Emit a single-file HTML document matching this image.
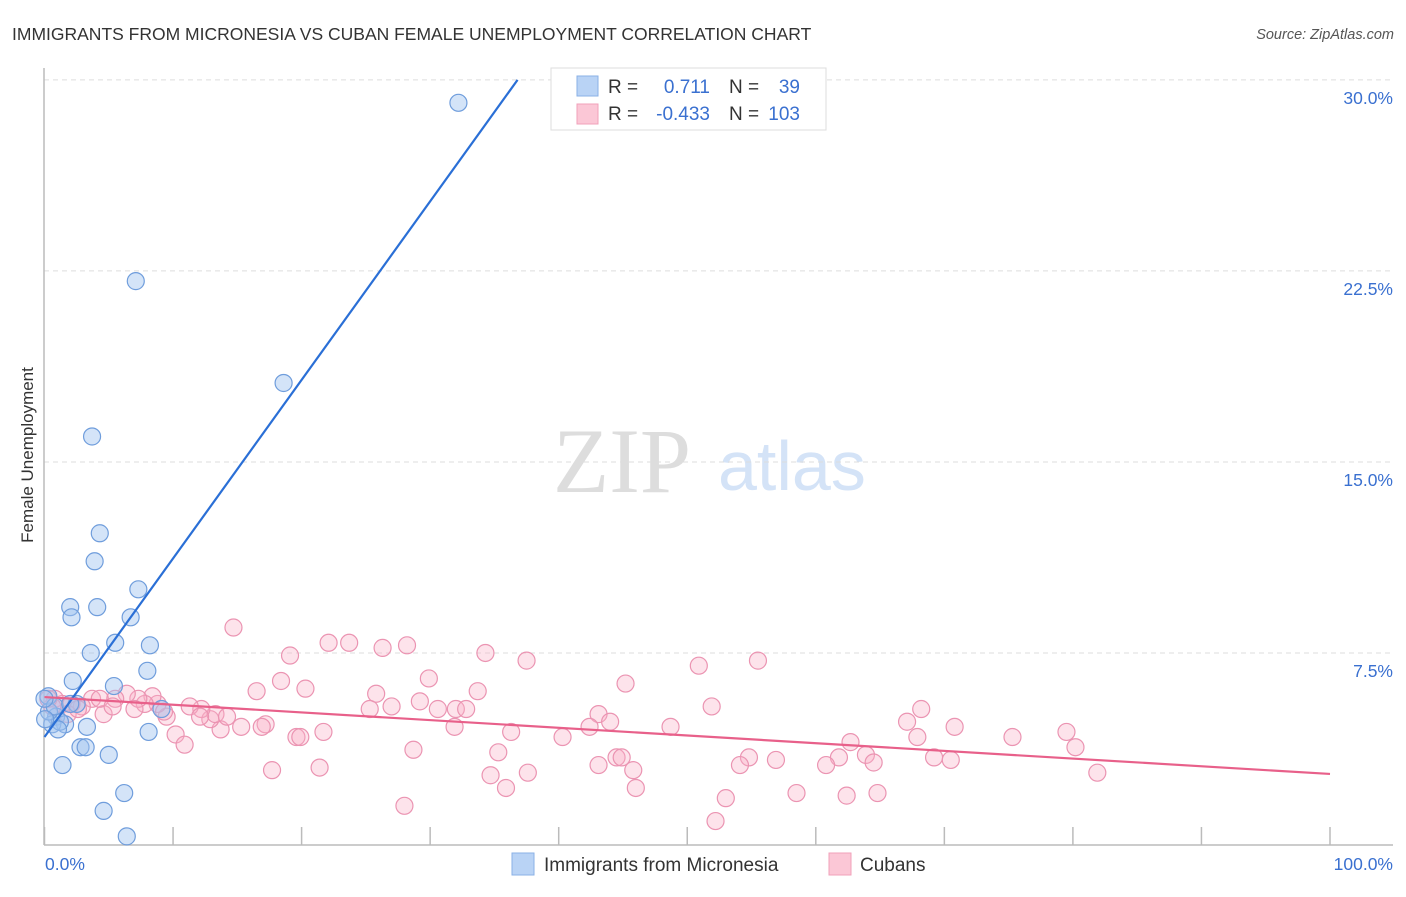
<!DOCTYPE html>
<html><head><meta charset="utf-8"><style>
body{margin:0;background:#fff;font-family:"Liberation Sans",sans-serif;}
svg text{font-family:"Liberation Sans",sans-serif;}
</style></head><body>
<svg id="c" width="1406" height="892" xmlns="http://www.w3.org/2000/svg">
<text x="12" y="40" font-size="17.5" fill="#333">IMMIGRANTS FROM MICRONESIA VS CUBAN FEMALE UNEMPLOYMENT CORRELATION CHART</text>
<text x="1394" y="39" font-size="14.5" fill="#555" font-style="italic" text-anchor="end">Source: ZipAtlas.com</text>
<text transform="translate(33,455) rotate(-90)" font-size="17" fill="#333" text-anchor="middle">Female Unemployment</text>
<g>
<text x="553" y="492" font-size="92" fill="#ddd" font-family="Liberation Serif" style="font-family:'Liberation Serif',serif">ZIP</text>
<text x="718" y="490" font-size="70" fill="#d4e3f7">atlas</text>
</g>
<g id="grid"></g><g id="axes"></g><g id="pts"></g><g id="lines"></g>
<g>
<rect x="551" y="68" width="275" height="62" fill="#fff" stroke="#ddd"/>
<rect x="577" y="76" width="21" height="20" fill="#b9d3f5" stroke="#8ab0e6"/>
<rect x="577" y="104" width="21" height="20" fill="#fbc7d6" stroke="#f0a0ba"/>
<text x="608" y="93" font-size="19" fill="#333">R =</text>
<text x="710" y="93" font-size="19" fill="#3a70d0" text-anchor="end">0.711</text>
<text x="729" y="93" font-size="19" fill="#333">N =</text>
<text x="800" y="93" font-size="19" fill="#3a70d0" text-anchor="end">39</text>
<text x="608" y="120" font-size="19" fill="#333">R =</text>
<text x="710" y="120" font-size="19" fill="#3a70d0" text-anchor="end">-0.433</text>
<text x="729" y="120" font-size="19" fill="#333">N =</text>
<text x="800" y="120" font-size="19" fill="#3a70d0" text-anchor="end">103</text>
</g>
<g>
<rect x="512" y="853" width="22" height="22" fill="#b9d3f5" stroke="#8ab0e6"/>
<text x="544" y="871" font-size="19" fill="#333">Immigrants from Micronesia</text>
<rect x="829" y="853" width="22" height="22" fill="#fbc7d6" stroke="#f0a0ba"/>
<text x="860" y="871" font-size="19" fill="#333">Cubans</text>
</g>
</svg>
<script>
const yTicks=[7.5,15,22.5,30];
const yTickLabels=["7.5%","15.0%","22.5%","30.0%"];
const xTicks=[0,10,20,30,40,50,60,70,80,90,100];
const blueX=[32.2,7.1,18.6,3.7,4.3,3.9,7.3,2.0,4.1,2.1,6.7,5.5,8.2,3.6,8.0,2.2,5.4,0.3,2.5,9.1,0.9,3.3,1.6,0.6,1.2,8.1,2.8,3.2,5.0,1.4,4.6,6.2,6.4,0.35,0.8,0,2.0,1.05,0.05];
const blueY=[29.1,22.1,18.1,16.0,12.2,11.1,10.0,9.3,9.3,8.9,8.9,7.9,7.8,7.5,6.8,6.4,6.2,5.8,5.5,5.3,5.0,4.6,4.7,4.7,4.8,4.4,3.8,3.8,3.5,3.1,1.3,2.0,0.3,5.2,5.4,5.7,5.5,4.5,4.9];
const pinkX=[14.7,19.1,22.1,23.7,26.3,28.2,34.3,37.5,50.9,55.5,45.2,29.9,33.7,25.8,20.3,18.4,16.5,29.2,27.0,25.3,30.6,32.0,32.8,43.1,44.0,42.4,51.9,68.2,67.1,70.8,67.9,75.3,79.5,80.2,62.7,63.9,64.5,61.8,60.8,56.9,54.8,54.1,48.7,43.1,44.5,44.9,45.8,46.0,36.3,31.9,28.7,35.3,34.7,37.6,35.9,17.7,21.4,28.0,53.0,52.2,58.5,62.4,64.8,81.9,69.2,70.5,40.3,21.7,19.6,19.9,17.2,16.9,15.3,13.7,12.9,13.3,14.2,12.2,11.3,10.2,10.9,9.5,8.8,8.4,7.8,7.3,6.4,5.5,7.0,4.6,3.7,2.9,2.1,1.4,0.8,0.6,0.3,1.8,2.6,4.3,5.3,9.3,12.1];
const pinkY=[8.5,7.4,7.9,7.9,7.7,7.8,7.5,7.2,7.0,7.2,6.3,6.5,6.0,5.9,6.1,6.4,6.0,5.6,5.4,5.3,5.3,5.3,5.3,5.1,4.8,4.6,5.4,5.3,4.8,4.6,4.2,4.2,4.4,3.8,4.0,3.5,3.2,3.4,3.1,3.3,3.4,3.1,4.6,3.1,3.4,3.4,2.9,2.2,4.4,4.6,3.7,3.6,2.7,2.8,2.2,2.9,3.0,1.5,1.8,0.9,2.0,1.9,2.0,2.8,3.4,3.3,4.2,4.4,4.2,4.2,4.7,4.6,4.6,4.5,4.9,5.1,5.0,5.3,5.4,4.3,3.9,5.0,5.5,5.8,5.5,5.7,5.9,5.7,5.3,5.1,5.7,5.4,5.5,5.5,5.7,5.4,5.7,5.1,5.3,5.7,5.4,5.2,5.0];
const blueTrendX=[0,36.8];
const blueTrendY=[4.2,30];
const pinkTrendX=[0,100];
const pinkTrendY=[5.77,2.75];

const NS="http://www.w3.org/2000/svg";
const X=v=>44.5+v*12.855;
const Y=v=>844-v*25.47;
function mk(t,a,p){const e=document.createElementNS(NS,t);for(const k in a)e.setAttribute(k,a[k]);p.appendChild(e);return e;}
const grid=document.getElementById('grid'),axes=document.getElementById('axes'),pts=document.getElementById('pts'),lines=document.getElementById('lines');
yTicks.forEach((t,i)=>{
 const l=mk('line',{x1:44,x2:1393,y1:Y(t),y2:Y(t),stroke:'#ddd','stroke-dasharray':'5,4'},grid);
 
 
 const tx=mk('text',{x:1393,y:Y(t)+24,'font-size':17.5,fill:'#3a70d0','text-anchor':'end'},axes);
 tx.textContent=yTickLabels[i];
 
 
});
const ya=mk('line',{x1:44,x2:44,y1:68,y2:845,stroke:'#bbb','stroke-width':1.5},axes);


const xa=mk('line',{x1:44,x2:1393,y1:845,y2:845,stroke:'#bbb','stroke-width':1.5},axes);


xTicks.forEach(t=>{
 const l=mk('line',{x1:X(t),x2:X(t),y1:827,y2:845,stroke:'#bbb','stroke-width':1.5},axes);
 
 
});
const x0=mk('text',{x:45,y:870,'font-size':17.5,fill:'#3a70d0'},axes);x0.textContent='0.0%';


const x1=mk('text',{x:1393,y:870,'font-size':17.5,fill:'#3a70d0','text-anchor':'end'},axes);x1.textContent='100.0%';


pinkX.forEach((v,i)=>{
 const c=mk('circle',{cx:X(v),cy:Y(pinkY[i]),r:8.5,fill:'rgba(248,175,198,0.35)',stroke:'#eb94b2','stroke-width':1.2},pts);
 
 
});
blueX.forEach((v,i)=>{
 const c=mk('circle',{cx:X(v),cy:Y(blueY[i]),r:8.5,fill:'rgba(160,195,240,0.45)',stroke:'#6f9ddc','stroke-width':1.2},pts);
 
 
});
const bl=mk('line',{x1:X(blueTrendX[0]),y1:Y(blueTrendY[0]),x2:X(blueTrendX[1]),y2:Y(blueTrendY[1]),stroke:'#2a6fd6','stroke-width':2.2},lines);


const pl=mk('line',{x1:X(pinkTrendX[0]),y1:Y(pinkTrendY[0]),x2:X(pinkTrendX[1]),y2:Y(pinkTrendY[1]),stroke:'#e8608a','stroke-width':2.2},lines);


</script>
</body></html>
